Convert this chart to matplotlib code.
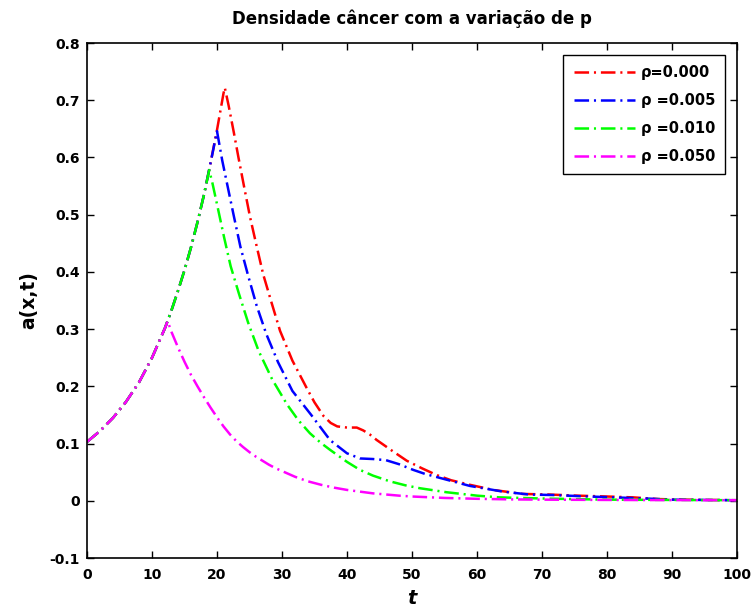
import matplotlib
matplotlib.use("Agg")
import matplotlib.pyplot as plt
from matplotlib.ticker import FuncFormatter, MultipleLocator

plt.rcParams['font.family'] = ['DejaVu Sans']
plt.rcParams['font.weight'] = 'bold'
plt.rcParams['lines.scale_dashes'] = False

# -----------------------------
# data: a(x,t) for each rho
# -----------------------------
t_r000 = [0, 2, 4, 6, 8, 10, 12, 13, 14, 15, 16, 17, 18, 19, 20, 21, 21.2,
          21.8, 22.6, 23.3, 24.2, 25.1, 26.1, 27.1, 28.4, 29.7, 31.6, 33.8, 35,
          36.4, 37.5, 38.5, 40, 41.5, 42.5, 43.5, 44.6, 47, 49.2, 51.5, 53.8,
          56, 58.9, 62.5, 67, 71, 75.5, 80, 84, 88, 92, 100]
a_r000 = [0.103, 0.122, 0.145, 0.173, 0.207, 0.250, 0.302, 0.333, 0.367, 0.403,
          0.443, 0.487, 0.535, 0.590, 0.648, 0.712, 0.722,
          0.690, 0.643, 0.600, 0.547, 0.495, 0.445, 0.396, 0.346, 0.297, 0.245,
          0.197, 0.172, 0.148, 0.136, 0.130, 0.128, 0.128, 0.123, 0.116, 0.106,
          0.087, 0.070, 0.057, 0.045, 0.036, 0.028, 0.019, 0.012, 0.011, 0.009,
          0.0075, 0.006, 0.003, 0.002, 0.001]

t_r005 = [0, 2, 4, 6, 8, 10, 12, 13, 14, 15, 16, 17, 18, 19, 20,
          20.8, 21.9, 22.6, 23.6, 24.8, 26.1, 27.6, 29.4, 31.6, 34.5, 37.4, 40,
          42, 44, 46, 48, 50.2, 52, 54.3, 58.9, 64, 68, 72, 76, 81, 86, 90, 100]
a_r005 = [0.103, 0.122, 0.145, 0.173, 0.207, 0.250, 0.302, 0.333, 0.367, 0.403,
          0.443, 0.487, 0.535, 0.590, 0.646,
          0.595, 0.535, 0.497, 0.444, 0.393, 0.341, 0.291, 0.242, 0.192, 0.150,
          0.106, 0.083, 0.074, 0.073, 0.071, 0.064, 0.054, 0.047, 0.040, 0.026,
          0.016, 0.011, 0.010, 0.008, 0.006, 0.004, 0.002, 0.001]

t_r010 = [0, 2, 4, 6, 8, 10, 12, 13, 14, 15, 16, 17, 18, 18.8,
          19.3, 20.1, 21.1, 22.1, 23.4, 24.8, 26.4, 28.5, 30.8, 32.5, 34.3, 36,
          37.4, 40, 42, 44, 46.6, 49, 51.2, 55.3, 60, 63.5, 70, 80, 90, 100]
a_r010 = [0.103, 0.122, 0.145, 0.173, 0.207, 0.250, 0.302, 0.333, 0.367, 0.403,
          0.443, 0.487, 0.535, 0.578,
          0.555, 0.513, 0.460, 0.410, 0.361, 0.311, 0.262, 0.212, 0.168, 0.141,
          0.118, 0.101, 0.089, 0.068, 0.054, 0.044, 0.034, 0.027, 0.022, 0.015,
          0.009, 0.006, 0.004, 0.002, 0.0015, 0.001]

t_r050 = [0, 2, 4, 6, 8, 10, 12, 12.4, 13, 14, 15, 16, 17, 18, 19, 20, 21, 22,
          23, 24, 25, 26, 27, 28, 29, 30, 32, 34, 36, 38, 40, 42, 44, 46, 48,
          50, 55, 60, 65, 70, 80, 90, 100]
a_r050 = [0.103, 0.122, 0.145, 0.173, 0.207, 0.250, 0.302, 0.314, 0.295, 0.268,
          0.243, 0.220, 0.200, 0.181, 0.163, 0.146, 0.130, 0.116, 0.104, 0.094,
          0.085, 0.077, 0.070, 0.063, 0.057, 0.052, 0.042, 0.034, 0.028, 0.023,
          0.019, 0.016, 0.013, 0.011, 0.009, 0.0075, 0.005, 0.0035, 0.0025,
          0.002, 0.0015, 0.0012, 0.001]

labels = ["\u03c1=0.000", "\u03c1 =0.005", "\u03c1 =0.010", "\u03c1 =0.050"]
colors = ["#ff0000", "#0000ff", "#00ff00", "#ff00ff"]

# -----------------------------
# plot
# -----------------------------
fig = plt.figure(figsize=(7.54, 6.12), dpi=100)
ax = fig.add_axes([0.1154, 0.0882, 0.862, 0.8415])

series = [(t_r000, a_r000), (t_r005, a_r005), (t_r010, a_r010), (t_r050, a_r050)]
for (tt, aa), lab, c in zip(series, labels, colors):
    ax.plot(tt, aa, color=c, lw=1.8, linestyle='-',
            dashes=[10.5, 3.5, 1.5, 3.5], label=lab)

ax.set_xlim(0, 100)
ax.set_ylim(-0.1, 0.8)
ax.xaxis.set_major_locator(MultipleLocator(10))
ax.yaxis.set_major_locator(MultipleLocator(0.1))
ax.yaxis.set_major_formatter(FuncFormatter(lambda v, p: f"{round(v, 2):g}"))
ax.tick_params(direction='in', length=5, width=1, top=True, right=True,
               labelsize=10)
ax.tick_params(axis='x', pad=7)
ax.tick_params(axis='y', pad=5)
for lbl in ax.get_xticklabels() + ax.get_yticklabels():
    lbl.set_fontweight('bold')
for s in ax.spines.values():
    s.set_linewidth(1.2)

ax.set_title("Densidade c\u00e2ncer com a varia\u00e7\u00e3o de p",
             fontsize=12, fontweight='bold', pad=14)
ax.set_xlabel("t", fontsize=14, fontweight='bold', style='italic', labelpad=5)
ax.set_ylabel("a(x,t)", fontsize=13.5, fontweight='bold', labelpad=8)

leg = ax.legend(loc='upper right', fontsize=10.5, handlelength=4.2,
                handletextpad=0.4, labelspacing=0.9, borderaxespad=0.8,
                fancybox=False, framealpha=1, edgecolor='black', borderpad=0.7)
leg.get_frame().set_linewidth(1.0)
for txt in leg.get_texts():
    txt.set_fontweight('bold')

fig.savefig("out.png", dpi=100)
